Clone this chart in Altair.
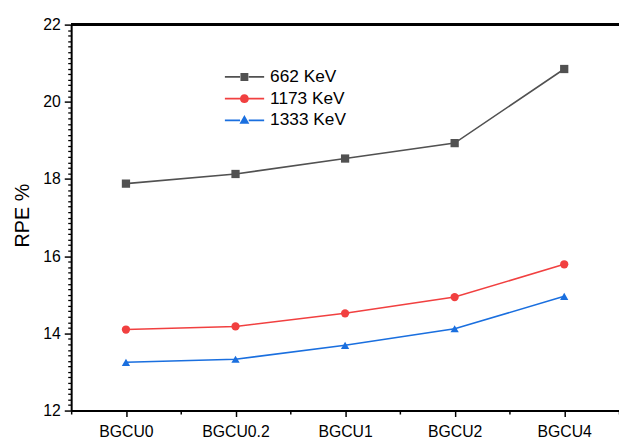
import json
import numpy as np
import pandas as pd
import altair as alt

categories = ["BGCU0", "BGCU0.2", "BGCU1", "BGCU2", "BGCU4"]
series_names = ["662 KeV", "1173 KeV", "1333 KeV"]
rpe_662 = [17.88, 18.13, 18.53, 18.93, 20.85]
rpe_1173 = [14.10, 14.18, 14.52, 14.94, 15.79]
rpe_1333 = [13.25, 13.33, 13.69, 14.12, 14.96]
y_ticks = [12, 14, 16, 18, 20, 22]

colors = ["#515151", "#F14040", "#1A6FDF"]
FONT = "Liberation Sans"

rows = []
for name, vals in zip(series_names, [rpe_662, rpe_1173, rpe_1333]):
    for i, (c, v) in enumerate(zip(categories, vals)):
        rows.append({"idx": i, "cat": c, "series": name, "rpe": v})
df = pd.DataFrame(rows)

X_DOMAIN = [-0.5, len(categories) - 0.5]
Y_DOMAIN = [12, 22]


def xs():
    return alt.Scale(domain=X_DOMAIN, nice=False, zero=False)


def ys():
    return alt.Scale(domain=Y_DOMAIN, nice=False, zero=False)


color_scale = alt.Scale(domain=series_names, range=colors)
shape_scale = alt.Scale(domain=series_names, range=["square", "circle", "triangle-up"])

label_expr = json.dumps(categories) + "[round(datum.value)]"
x_major = alt.Axis(orient="bottom", values=list(range(len(categories))), labelExpr=label_expr,
                   title=None, grid=False, tickSize=6, tickWidth=1.5, tickColor="black",
                   domainWidth=2, domainColor="black", labelFont=FONT, labelFontSize=16,
                   labelColor="black", labelPadding=7, labelOverlap=False)
y_major = alt.Axis(orient="left", values=y_ticks, title="RPE %", grid=False, tickSize=7,
                   tickWidth=1.5, tickColor="black", domainWidth=2, domainColor="black",
                   labelFont=FONT, labelFontSize=16, labelColor="black", labelPadding=4,
                   labelOverlap=False,
                   titleFont=FONT, titleFontSize=20, titleFontWeight="normal",
                   titleColor="black", titleX=-43, titleY=193, titleBaseline="alphabetic",
                   titleAngle=270, titleAlign="center")

minor_x_vals = [i - 0.5 for i in range(len(categories) + 1)]
minor_y_vals = [float(v) for v in np.round(np.linspace(12, 22, 5 * 14 + 1), 5)
                if abs(v - round(v / 2) * 2) > 1e-6]
x_minor = alt.Axis(orient="bottom", values=minor_x_vals, labels=False, domain=False,
                   title=None, grid=False, tickSize=3.5, tickWidth=1.5, tickColor="black")
y_minor = alt.Axis(orient="left", values=minor_y_vals, labels=False, domain=False,
                   title=None, grid=False, tickSize=3.5, tickWidth=1.3, tickColor="black")

# legend symbols: line segment plus marker (custom symbol paths)
seg = "M-1,-0.045 H-0.22 V0.045 H-1 Z M0.22,-0.045 H1 V0.045 H0.22 Z "
legend_paths = [
    seg + "M-0.2,-0.2 H0.2 V0.2 H-0.2 Z",
    seg + "M0.225,0 A0.225,0.225 0 1,1 -0.225,0 A0.225,0.225 0 1,1 0.225,0 Z",
    seg + "M0,-0.27 L0.25,0.17 L-0.25,0.17 Z",
]

base = alt.Chart(df)

lines = base.mark_line(strokeWidth=1.6).encode(
    x=alt.X("idx:Q", scale=xs(), axis=x_major),
    y=alt.Y("rpe:Q", scale=ys(), axis=y_major),
    stroke=alt.Stroke("series:N", scale=color_scale, legend=None),
    detail="series:N",
)

points = base.mark_point(filled=True, opacity=1, size=70).encode(
    x=alt.X("idx:Q", scale=xs()),
    y=alt.Y("rpe:Q", scale=ys()),
    fill=alt.Fill("series:N", scale=color_scale, legend=None),
    shape=alt.Shape("series:N", scale=shape_scale, legend=None),
)

top_rule = base.mark_rule(color="black", strokeWidth=2).encode(
    y=alt.datum(22, scale=ys())
)

legend_layers = []
for k, (name, col, path) in enumerate(zip(series_names, colors, legend_paths)):
    leg = alt.Legend(title=None, orient="none", legendX=155.5, legendY=45 + 22 * k,
                     padding=0, symbolType=path, symbolSize=1600, symbolStrokeWidth=0,
                     clipHeight=16, labelOffset=6, labelFont=FONT, labelFontSize=17.5,
                     labelColor="black", symbolOpacity=1)
    legend_layers.append(
        base.transform_filter(alt.datum.series == name).mark_point(
            filled=True, opacity=0, size=10
        ).encode(
            x=alt.X("idx:Q", scale=xs()),
            y=alt.Y("rpe:Q", scale=ys()),
            color=alt.Color("series:N", scale=alt.Scale(domain=[name], range=[col]),
                            legend=leg),
        )
    )

minor = base.mark_point(opacity=0).encode(
    x=alt.X("idx:Q", scale=xs(), axis=x_minor),
    y=alt.Y("rpe:Q", scale=ys(), axis=y_minor),
)

main = alt.layer(lines, points, *legend_layers, top_rule).resolve_scale(
    color="independent", fill="independent", stroke="independent", shape="independent"
)

chart = alt.layer(main, minor).resolve_scale(
    x="independent", y="independent"
).properties(
    width=555,
    height=391,
    autosize=alt.AutoSizeParams(type="none"),
    padding={"left": 64, "top": 14, "right": 0, "bottom": 28},
).configure_view(stroke=None).configure(background="white")

chart.save("out.html", embed_options={"renderer": "svg", "actions": False})
